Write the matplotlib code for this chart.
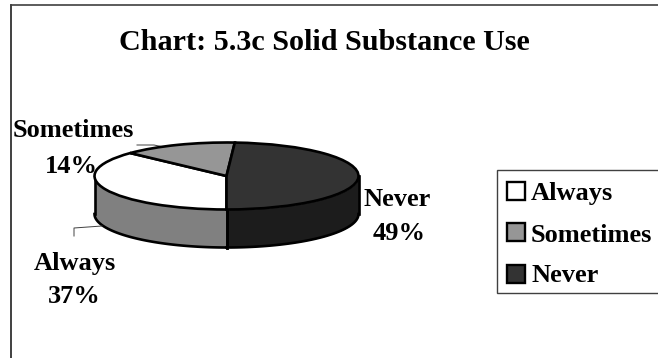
import numpy as np
import matplotlib
matplotlib.use("Agg")
import matplotlib.pyplot as plt
from matplotlib.patches import Rectangle

labels = ["Always", "Sometimes", "Never"]
shares = [37, 14, 49]
top_colors = ["#ffffff", "#969696", "#333333"]
side_colors = ["#808080", "#4b4b4b", "#1c1c1c"]
title = "Chart: 5.3c Solid Substance Use"

W, H = 658, 358
CX, CY, RX, RY, DEPTH = 226.5, 176.0, 132.0, 33.5, 38.0
SERIF = "Liberation Serif"
EDGE = 1.9
LABEL_SIZE = 19

fig = plt.figure(figsize=(W / 100, H / 100), dpi=100, facecolor="white")
ax = fig.add_axes([0, 0, 1, 1])


def px(x, y):
    """Pixel position to the unit-circle coordinates of the pie axes."""
    return (x - CX) / RX, (CY - y) / RY


def label(x, y, s, size):
    fig.text(x / W, 1 - y / H, s, ha="center", va="baseline", family=SERIF,
             weight="bold", size=size, color="black", zorder=10)


# Top face: the slices run clockwise from the bottom of the ellipse.
wedges, _ = ax.pie(shares, colors=top_colors, startangle=270, counterclock=False,
                   radius=1, center=(0, 0),
                   wedgeprops=dict(edgecolor="black", linewidth=EDGE, zorder=4, clip_on=False))
ax.set_aspect("auto")
ax.set_xlim(px(0, 0)[0], px(W, 0)[0])
ax.set_ylim(px(0, H)[1], px(0, 0)[1])
ax.axis("off")

# Side wall: only the front half of the rim (180-360 deg) is visible.
depth = DEPTH / RY
start = 270.0
for share, color in zip(shares, side_colors):
    end = start - share * 3.6
    a0, a1 = sorted((start, end))
    for shift in (0, 360):
        lo, hi = max(a0 + shift, 180), min(a1 + shift, 360)
        if hi > lo:
            t = np.radians(np.linspace(lo, hi, 80))
            x, y = np.cos(t), np.sin(t)
            ax.fill_between(x, y, y - depth, color=color, lw=0, zorder=2)
            ax.plot(x, y - depth, color="black", lw=EDGE, zorder=3)
            for edge in (0, -1):
                ax.plot([x[edge]] * 2, [y[edge], y[edge] - depth],
                        color="black", lw=EDGE, zorder=3)
    start = end

# Leader lines from the outer labels.
for pts in ([(137, 145), (154, 145), (168, 148)], [(74, 236), (74, 228), (102, 226)]):
    xs, ys = zip(*(px(*p) for p in pts))
    ax.plot(xs, ys, color="#404040", lw=0.7, zorder=3)

# Chart frame: its right and bottom sides fall off the canvas.
fig.add_artist(plt.Line2D([11 / W, 11 / W], [0, 1 - 5 / H], color="#202020", lw=1.2))
fig.add_artist(plt.Line2D([11 / W, 1], [1 - 5 / H, 1 - 5 / H], color="#404040", lw=1.2))

fig.text(324 / W, 1 - 50 / H, title, ha="center", va="baseline", family=SERIF,
         weight="bold", size=21.7, color="black")

label(73, 137, "Sometimes", LABEL_SIZE)
label(71, 172.5, "14%", LABEL_SIZE)
label(75, 270, "Always", LABEL_SIZE)
label(74, 303, "37%", LABEL_SIZE)
label(397, 206, "Never", LABEL_SIZE)
label(399, 240, "49%", LABEL_SIZE)

# Legend drawn by hand so the box can run off the right edge.
fig.add_artist(Rectangle((497.5 / W, 1 - 293 / H), 200 / W, 123 / H, transform=fig.transFigure,
                         fc="white", ec="#404040", lw=1.0, clip_on=False))
for name, color, y, base in zip(labels, top_colors, [191, 232, 273.5], [200, 241.5, 282.5]):
    fig.add_artist(Rectangle((506.5 / W, 1 - (y + 9) / H), 18 / W, 18 / H,
                             transform=fig.transFigure, fc=color, ec="black", lw=1.7))
    fig.text(531 / W, 1 - base / H, name, ha="left", va="baseline", family=SERIF,
             weight="bold", size=19, color="black")

fig.savefig("out.png", dpi=100)
